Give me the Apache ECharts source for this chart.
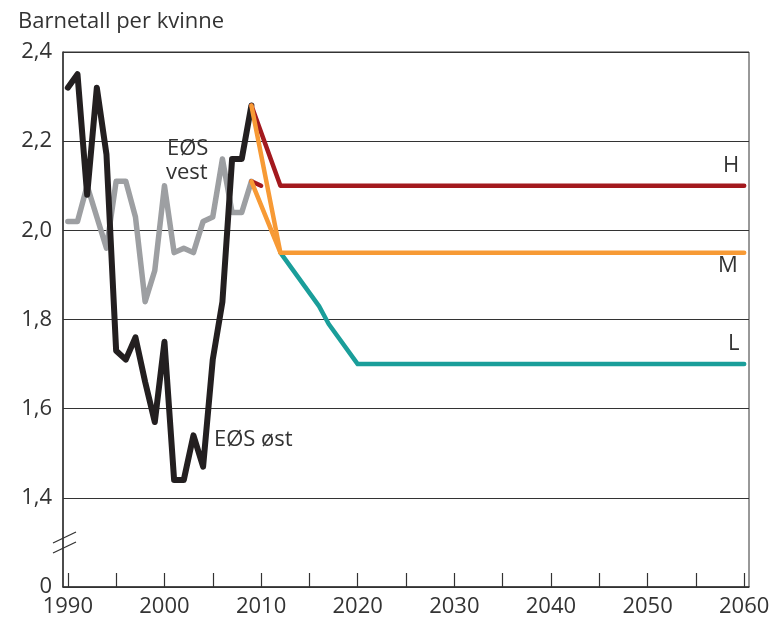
<!DOCTYPE html>
<html>
<head>
<meta charset="utf-8">
<script src="https://cdn.jsdelivr.net/npm/echarts@6/dist/echarts.min.js"></script>
<style>
  html, body { margin: 0; padding: 0; background: #fff; }
  #chart { width: 776px; height: 622px; }
</style>
</head>
<body>
<div id="chart"></div>
<script>
// EØS øst (svart) og EØS vest (grå), 1990-2009
var years = [1990, 1991, 1992, 1993, 1994, 1995, 1996, 1997, 1998, 1999,
             2000, 2001, 2002, 2003, 2004, 2005, 2006, 2007, 2008, 2009];
var eosOst = [2.32, 2.35, 2.08, 2.32, 2.17, 1.73, 1.71, 1.76, 1.66, 1.57,
              1.75, 1.44, 1.44, 1.54, 1.47, 1.71, 1.84, 2.16, 2.16, 2.28];
var eosVest = [2.02, 2.02, 2.10, 2.03, 1.96, 2.11, 2.11, 2.03, 1.84, 1.91,
               2.10, 1.95, 1.96, 1.95, 2.02, 2.03, 2.16, 2.04, 2.04, 2.11];

// framskrivinger: H, M, L
var hYears = [2009, 2012, 2060];
var hOst = [2.28, 2.10, 2.10];
var hVestYears = [2009, 2010];
var hVest = [2.11, 2.10];
var mYears = [2009, 2012, 2060];
var mOst = [2.28, 1.95, 1.95];
var mVestYears = [2009, 2012];
var mVest = [2.11, 1.95];
var lYears = [2012, 2016, 2017, 2020, 2060];
var lVals = [1.95, 1.83, 1.79, 1.70, 1.70];

var xLabels = [1990, 2000, 2010, 2020, 2030, 2040, 2050, 2060];
var xTicks = [1990, 1995, 2000, 2005, 2010, 2015, 2020, 2025, 2030, 2035, 2040, 2045, 2050, 2055, 2060];

function pairs(xs, ys) {
  var res = [];
  for (var i = 0; i < xs.length; i++) res.push([xs[i], ys[i]]);
  return res;
}

var font = "'Open Sans', 'Noto Sans', sans-serif";
var txt = '#333';

function lineSeries(data, color, width) {
  return {
    type: 'line',
    data: data,
    symbol: 'none',
    silent: true,
    lineStyle: { color: color, width: width, join: 'round', cap: 'round' }
  };
}

var myChart = echarts.init(document.getElementById('chart'), null, { renderer: 'canvas' });

var option = {
  animation: false,
  backgroundColor: '#fff',
  title: {
    text: 'Barnetall per kvinne',
    left: 13, top: 6,
    textStyle: { fontFamily: font, fontSize: 22, fontWeight: 'normal', color: txt }
  },
  grid: {
    left: 63, right: 27, top: 52, bottom: 35,
    show: true, borderColor: '#333', borderWidth: 1
  },
  xAxis: {
    type: 'value',
    min: 1989.5,
    max: 2060.5,
    axisLine: { lineStyle: { color: '#333', width: 1.5 } },
    axisTick: {
      show: true, inside: true, length: 14,
      customValues: xTicks,
      lineStyle: { color: '#333', width: 1.2 }
    },
    axisLabel: {
      customValues: xLabels,
      margin: 9,
      fontFamily: font, fontSize: 22, color: txt,
      formatter: function (v) { return String(v); }
    },
    splitLine: { show: false }
  },
  yAxis: {
    type: 'value',
    min: 1.2,
    max: 2.4,
    interval: 0.2,
    axisLine: { show: true, lineStyle: { color: '#333', width: 1.5 } },
    axisTick: { show: false },
    axisLabel: {
      margin: 11,
      fontFamily: font, fontSize: 22, color: txt,
      formatter: function (v) {
        if (v < 1.3) return '0';
        return v.toFixed(1).replace('.', ',');
      }
    },
    splitLine: { show: true, lineStyle: { color: '#333', width: 1 } }
  },
  series: [
    lineSeries(pairs(years, eosVest), '#9d9fa2', 5.5),
    lineSeries(pairs(years, eosOst), '#231f20', 6),
    lineSeries(pairs(hYears, hOst), '#a3191e', 4.5),
    lineSeries(pairs(hVestYears, hVest), '#a3191e', 4.5),
    lineSeries(pairs(lYears, lVals), '#1a9e9a', 4.5),
    lineSeries(pairs(mYears, mOst), '#f79a35', 4.5),
    lineSeries(pairs(mVestYears, mVest), '#f79a35', 4.5)
  ],
  graphic: [
    // brudd i y-aksen
    { type: 'line', shape: { x1: 53, y1: 543, x2: 76, y2: 532 }, style: { stroke: '#333', lineWidth: 1.3 } },
    { type: 'line', shape: { x1: 53, y1: 553, x2: 76, y2: 542 }, style: { stroke: '#333', lineWidth: 1.3 } },
    { type: 'text', left: 167, top: 138, style: { text: 'EØS', fontFamily: font, fontSize: 22, fill: txt } },
    { type: 'text', left: 166, top: 162, style: { text: 'vest', fontFamily: font, fontSize: 22, fill: txt } },
    { type: 'text', left: 214, top: 429, style: { text: 'EØS øst', fontFamily: font, fontSize: 22, fill: txt } },
    { type: 'text', left: 723, top: 155, style: { text: 'H', fontFamily: font, fontSize: 22, fill: txt } },
    { type: 'text', left: 718, top: 255, style: { text: 'M', fontFamily: font, fontSize: 22, fill: txt } },
    { type: 'text', left: 728, top: 333, style: { text: 'L', fontFamily: font, fontSize: 22, fill: txt } }
  ]
};

myChart.setOption(option);
</script>
</body>
</html>
